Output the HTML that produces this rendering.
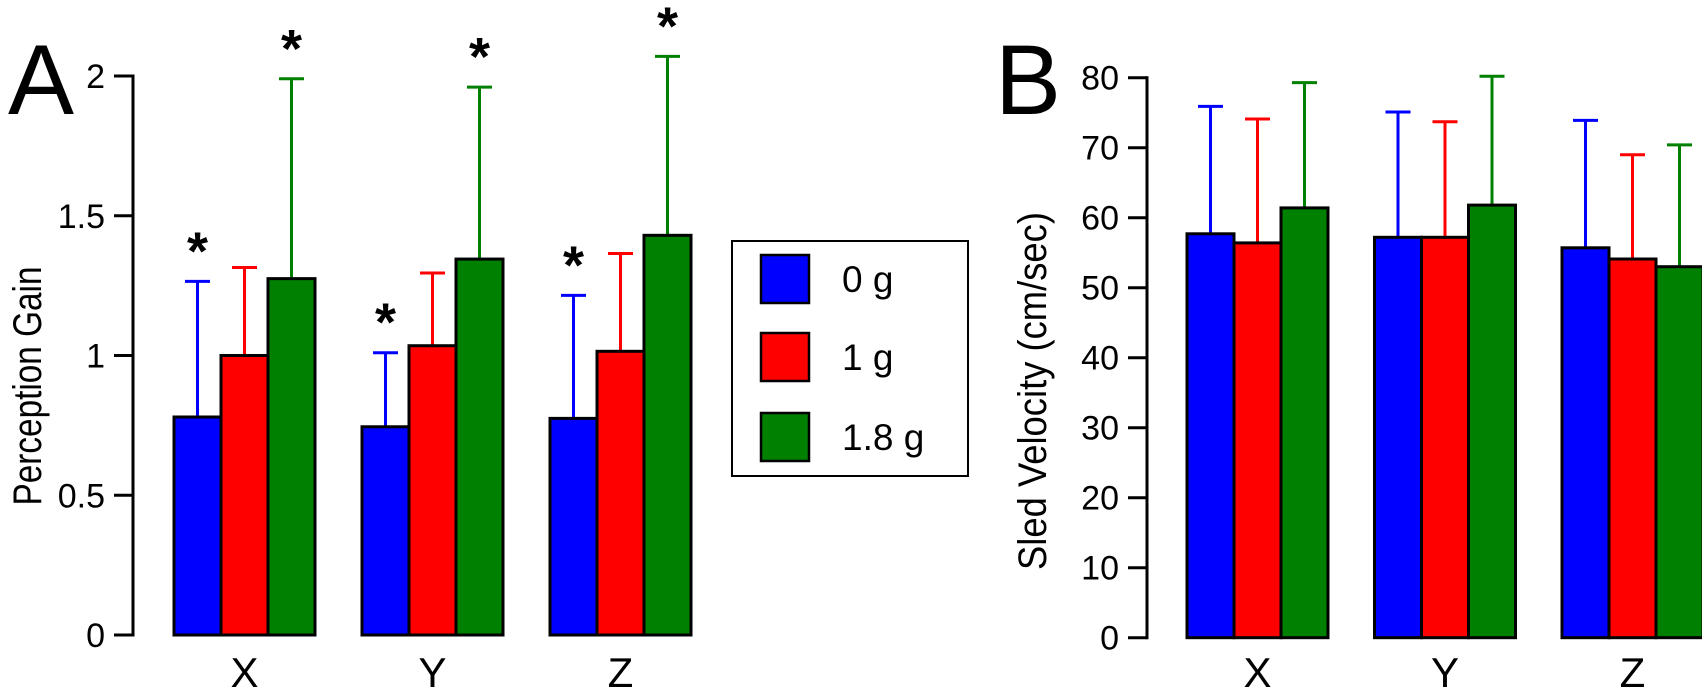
<!DOCTYPE html>
<html><head><meta charset="utf-8"><style>
html,body{margin:0;padding:0;background:#fff;width:1702px;height:697px;overflow:hidden}
svg{display:block;font-family:"Liberation Sans",Arial,sans-serif}
</style></head><body>
<svg id="chart" width="1702" height="697" viewBox="0 0 1702 697" xmlns="http://www.w3.org/2000/svg"></svg>
<script>
const categories = ["X","Y","Z"];
const seriesNames = ["0 g","1 g","1.8 g"];
const colors = ["#0000ff","#ff0000","#008000"];
const gainMeans0 = [0.78, 0.745, 0.775];
const gainMeans1 = [1.0, 1.035, 1.015];
const gainMeans2 = [1.275, 1.345, 1.43];
const gainErrTop0 = [1.265, 1.01, 1.215];
const gainErrTop1 = [1.315, 1.295, 1.365];
const gainErrTop2 = [1.99, 1.96, 2.07];
const gainStars0 = [true, true, true];
const gainStars2 = [true, true, true];
const gainTicks = [0, 0.5, 1, 1.5, 2];
const gainTickLabels = ["0","0.5","1","1.5","2"];
const velMeans0 = [57.7, 57.2, 55.7];
const velMeans1 = [56.4, 57.2, 54.1];
const velMeans2 = [61.4, 61.8, 53.0];
const velErrTop0 = [75.9, 75.1, 73.9];
const velErrTop1 = [74.1, 73.7, 69.0];
const velErrTop2 = [79.3, 80.2, 70.4];
const velTicks = [0,10,20,30,40,50,60,70,80];

const NS="http://www.w3.org/2000/svg";
const svg=document.getElementById('chart');
function mk(tag,attrs,parent){const e=document.createElementNS(NS,tag);for(const k in attrs)e.setAttribute(k,attrs[k]);(parent||svg).appendChild(e);return e;}

function panel(cfg){
  const g=mk('g',{});
  
  
  const y=v=>cfg.y0-(v-cfg.vmin)/(cfg.vmax-cfg.vmin)*(cfg.y0-cfg.y1);
  const ax=mk('line',{x1:cfg.ax,x2:cfg.ax,y1:y(cfg.vmin)+1.5,y2:y(cfg.vmax)-1.5,stroke:'#000','stroke-width':3},g);
  
  
  cfg.ticks.forEach((t,i)=>{
    const tl=mk('line',{x1:cfg.ax-19,x2:cfg.ax,y1:y(t),y2:y(t),stroke:'#000','stroke-width':3},g);
    
    
    const tx=mk('text',{x:cfg.ax-28,y:y(t)+12,'text-anchor':'end','font-size':34},g);
    
    
    tx.textContent=cfg.tickLabels[i];
  });
  const means=cfg.means, errs=cfg.errs, bw=47;
  categories.forEach((c,ci)=>{
    const gx=cfg.gx0+ci*cfg.gstep;
    for(let s=0;s<3;s++){
      const x=gx+s*bw, top=y(means[s][ci]), cx=x+bw/2;
      const el=mk('line',{x1:cx,x2:cx,y1:top,y2:y(errs[s][ci]),stroke:colors[s],'stroke-width':3},g);
      
      
      const cap=mk('line',{x1:cx-12.5,x2:cx+12.5,y1:y(errs[s][ci]),y2:y(errs[s][ci]),stroke:colors[s],'stroke-width':3},g);
      
      
      const r=mk('rect',{x:x,y:top,width:bw,height:y(cfg.vmin)-top,fill:colors[s],stroke:'#000','stroke-width':3},g);
      
      
      if(cfg.stars && cfg.stars[s] && cfg.stars[s][ci]){
        const st=mk('text',{x:cx,y:y(errs[s][ci])-12,'text-anchor':'middle','font-size':54,'font-weight':'bold'},g);
        
        
        st.textContent='*';
      }
    }
    const xl=mk('text',{x:gx+bw*1.5,y:687,'text-anchor':'middle','font-size':42},g);
    
    
    xl.textContent=c;
  });
  const yt=mk('text',{x:0,y:0,'text-anchor':'middle','font-size':40,textLength:cfg.titleLen,lengthAdjust:'spacingAndGlyphs',transform:`translate(${cfg.titleX},${cfg.titleY}) rotate(-90)`},g);
  
  
  yt.textContent=cfg.title;
  const pl=mk('text',{x:cfg.labelX,y:114,'font-size':99},g);
  
  
  pl.textContent=cfg.label;
}

panel({name:'panel-a',ax:133,y0:635,y1:76,vmin:0,vmax:2,ticks:gainTicks,tickLabels:gainTickLabels,
  means:[gainMeans0,gainMeans1,gainMeans2],errs:[gainErrTop0,gainErrTop1,gainErrTop2],
  stars:[gainStars0,null,gainStars2],gx0:174,gstep:188,title:'Perception Gain',titleLen:239,titleX:41,titleY:386,label:'A',labelX:8});
panel({name:'panel-b',ax:1147,y0:637.7,y1:77.7,vmin:0,vmax:80,ticks:velTicks,tickLabels:velTicks.map(String),
  means:[velMeans0,velMeans1,velMeans2],errs:[velErrTop0,velErrTop1,velErrTop2],
  stars:null,gx0:1187,gstep:187.5,title:'Sled Velocity (cm/sec)',titleLen:358,titleX:1046,titleY:391,label:'B',labelX:995});

const lg=mk('g',{});


const box=mk('rect',{x:732,y:241,width:236,height:235,fill:'#fff',stroke:'#000','stroke-width':2},lg);


const rowY=[255,333,413];
seriesNames.forEach((n,i)=>{
  const sw=mk('rect',{x:761,y:rowY[i],width:48,height:48,fill:colors[i],stroke:'#000','stroke-width':2.5},lg);
  
  
  const t=mk('text',{x:842,y:rowY[i]+37,'font-size':37},lg);
  
  
  t.textContent=n;
});
</script>
</body></html>
